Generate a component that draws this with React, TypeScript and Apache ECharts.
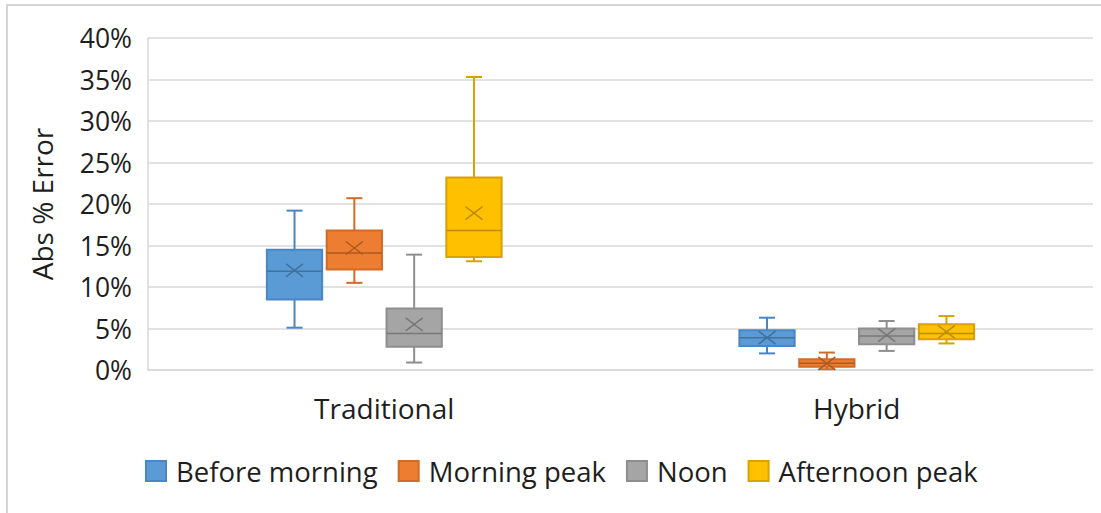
import React, { useEffect, useRef } from 'react';
import * as echarts from 'echarts';

// Category groups along the x axis
const categories = ['Traditional', 'Hybrid'];
// One box series per time-of-day period
const seriesNames = ['Before morning', 'Morning peak', 'Noon', 'Afternoon peak'];
// Box statistics per category, in percent: [min, Q1, median, Q3, max, mean]
const beforeMorning = [
  [5.1, 8.5, 11.9, 14.5, 19.2, 12.0],
  [2.0, 2.9, 3.9, 4.8, 6.3, 3.9],
];
const morningPeak = [
  [10.5, 12.1, 14.1, 16.8, 20.7, 14.7],
  [0.1, 0.4, 0.8, 1.3, 2.1, 0.8],
];
const noon = [
  [0.9, 2.8, 4.4, 7.4, 13.9, 5.5],
  [2.3, 3.1, 4.1, 5.0, 5.9, 4.2],
];
const afternoonPeak = [
  [13.1, 13.6, 16.8, 23.2, 35.3, 18.9],
  [3.2, 3.7, 4.4, 5.5, 6.5, 4.6],
];
// Value axis range and step, in percent
const yMin = 0;
const yMax = 40;
const yStep = 5;

const palette = [
  { fill: '#5B9BD5', line: '#4A86C5', dark: '#41719C' },
  { fill: '#ED7D31', line: '#D06B28', dark: '#AE5A21' },
  { fill: '#A5A5A5', line: '#8E8E8E', dark: '#787878' },
  { fill: '#FFC000', line: '#D8A300', dark: '#BC8C00' },
];

const FONT = '"Open Sans", sans-serif';
const TEXT = '#1e1e1e';

export default function App() {
  const ref = useRef<HTMLDivElement>(null);

  useEffect(() => {
    const chart = echarts.init(ref.current!, null, { renderer: 'svg' });

    // widths relative to the category band
    const BOX = 0.117;
    const STEP = 0.1266;
    const CAP = 0.034;

    const allStats = [beforeMorning, morningPeak, noon, afternoonPeak];

    const series = allStats.map((stats, si) => ({
      type: 'custom',
      name: seriesNames[si],
      itemStyle: { color: palette[si].fill, borderColor: palette[si].line, borderWidth: 1.5 },
      data: stats.map((s, ci) => [ci, ...s]),
      encode: { x: 0, y: [1, 2, 3, 4, 5, 6] },
      renderItem: (params: any, api: any) => {
        const ci = api.value(0);
        const [mn, q1, md, q3, mx, mean] = [1, 2, 3, 4, 5, 6].map((i) => api.value(i));
        const band = api.size([1, 0])[0];
        const cx = api.coord([ci, 0])[0] + (params.seriesIndex - 1.5) * band * STEP;
        const half = (band * BOX) / 2;
        const capHalf = (band * CAP) / 2;
        const y = (v: number) => api.coord([ci, v])[1];
        const c = palette[params.seriesIndex];
        const lineStyle = { stroke: c.line, lineWidth: 2 };
        const ym = y(mean);
        const xw = 8.5;
        const xh = 6.5;
        return {
          type: 'group',
          children: [
            { type: 'line', shape: { x1: cx, y1: y(mn), x2: cx, y2: y(q1) }, style: lineStyle },
            { type: 'line', shape: { x1: cx, y1: y(q3), x2: cx, y2: y(mx) }, style: lineStyle },
            { type: 'line', shape: { x1: cx - capHalf, y1: y(mn), x2: cx + capHalf, y2: y(mn) }, style: lineStyle },
            { type: 'line', shape: { x1: cx - capHalf, y1: y(mx), x2: cx + capHalf, y2: y(mx) }, style: lineStyle },
            {
              type: 'rect',
              shape: { x: cx - half, y: y(q3), width: half * 2, height: y(q1) - y(q3) },
              style: { fill: c.fill, stroke: c.line, lineWidth: 2 },
            },
            { type: 'line', shape: { x1: cx - half, y1: y(md), x2: cx + half, y2: y(md) }, style: { stroke: c.dark, lineWidth: 1.5 } },
            { type: 'line', shape: { x1: cx - xw, y1: ym - xh, x2: cx + xw, y2: ym + xh }, style: { stroke: c.dark, lineWidth: 1.5 } },
            { type: 'line', shape: { x1: cx - xw, y1: ym + xh, x2: cx + xw, y2: ym - xh }, style: { stroke: c.dark, lineWidth: 1.5 } },
          ],
        };
      },
    }));

    chart.setOption({
      animation: false,
      backgroundColor: '#ffffff',
      grid: { left: 148, right: 8, top: 38, bottom: 143 },
      graphic: [
        {
          type: 'rect',
          silent: true,
          shape: { x: 7, y: 5, width: 1200, height: 600 },
          style: { fill: 'none', stroke: '#c6c6c6', lineWidth: 1.5 },
        },
      ],
      legend: {
        left: 140,
        top: 452,
        icon: 'rect',
        itemWidth: 20,
        itemHeight: 20,
        itemGap: 20,
        data: seriesNames,
        textStyle: { fontFamily: FONT, fontSize: 27.5, color: TEXT, padding: [0, 0, 0, 5] },
      },
      xAxis: {
        type: 'category',
        data: categories,
        axisTick: { show: false },
        axisLine: { lineStyle: { color: '#d9d9d9', width: 1.5 } },
        axisLabel: { fontFamily: FONT, fontSize: 28, color: TEXT, margin: 24 },
      },
      yAxis: {
        type: 'value',
        min: yMin,
        max: yMax,
        interval: yStep,
        name: 'Abs % Error',
        nameLocation: 'middle',
        nameGap: 92,
        nameTextStyle: { fontFamily: FONT, fontSize: 28, color: TEXT },
        axisLine: { show: true, lineStyle: { color: '#d9d9d9', width: 1.5 } },
        axisTick: { show: false },
        splitLine: { lineStyle: { color: '#d9d9d9', width: 1.5 } },
        axisLabel: {
          fontFamily: FONT,
          fontSize: 26.5,
          color: TEXT,
          margin: 16,
          formatter: (v: number) => `${v}%`,
        },
      },
      series,
    } as any);

    return () => chart.dispose();
  }, []);

  return (
    <div
      ref={ref}
      style={{ position: 'fixed', left: 0, top: 0, width: 1101, height: 513 }}
    />
  );
}
